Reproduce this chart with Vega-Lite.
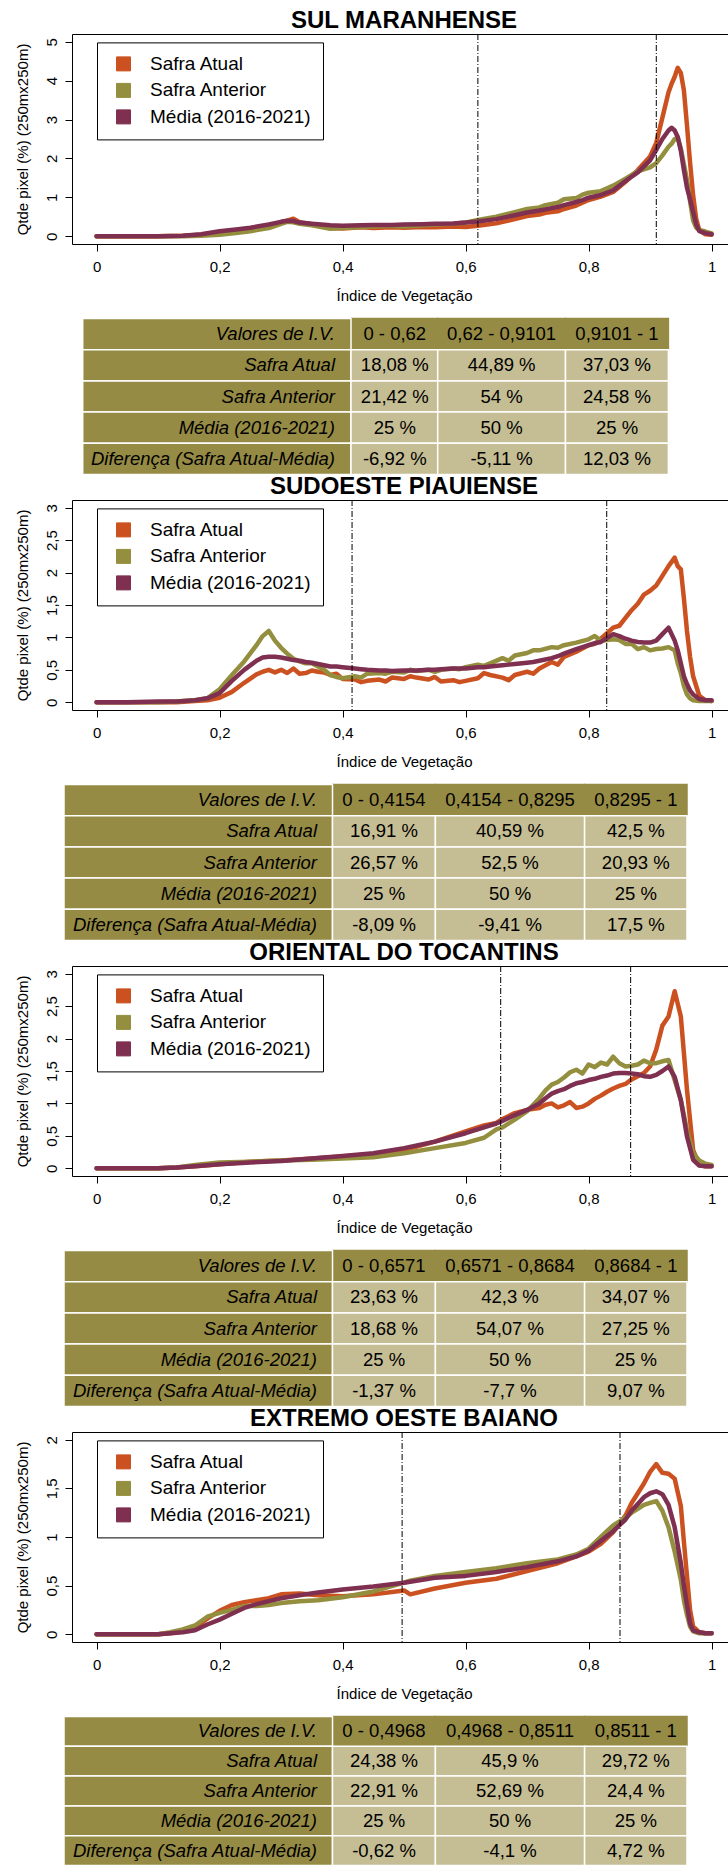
{
  "$schema": "https://vega.github.io/schema/vega-lite/v6.json",
  "padding": {"left": 14, "top": 8, "right": 0, "bottom": 0},
  "bounds": "flush",
  "spacing": 0,
  "resolve": {"scale": {"color": "independent"}, "legend": {"color": "independent"}},
  "config": {
    "font": "Liberation Sans",
    "view": {"stroke": null},
    "axis": {"grid": false, "domainColor": "black", "domainWidth": 1, "tickColor": "black", "tickWidth": 1, "labelColor": "black", "titleColor": "black", "labelFontSize": 15, "titleFontSize": 15, "titleFontWeight": "normal", "tickSize": 7, "labelFont": "Liberation Sans", "titleFont": "Liberation Sans"},
    "axisLeft": {"labelAngle": -90, "labelAlign": "center", "labelBaseline": "bottom", "labelPadding": 6, "titlePadding": 14},
    "axisBottom": {"labelPadding": 8, "titlePadding": 14, "titleX": 332},
    "title": {"fontSize": 24, "fontWeight": "bold", "color": "black", "offset": 1, "dx": 4, "font": "Liberation Sans"},
    "legend": {"symbolType": "square", "symbolSize": 196, "labelFontSize": 19, "labelFont": "Liberation Sans", "labelColor": "black", "labelOffset": 17, "padding": 12, "rowPadding": 6.5, "symbolOffset": 5, "strokeColor": "black", "fillColor": "white", "labelLimit": 300}
  },
  "datasets": {
    "l1": [{"x":0,"a":0,"b":0,"m":0},{"x":0.05,"a":0,"b":0,"m":0},{"x":0.1,"a":0,"b":0,"m":0},{"x":0.14,"a":0.01,"b":0,"m":0.01},{"x":0.17,"a":0.04,"b":0.01,"m":0.05},{"x":0.2,"a":0.1,"b":0.04,"m":0.13},{"x":0.23,"a":0.15,"b":0.09,"m":0.18},{"x":0.25,"a":0.19,"b":0.13,"m":0.22},{"x":0.28,"a":0.27,"b":0.21,"m":0.3},{"x":0.3,"a":0.36,"b":0.32,"m":0.37},{"x":0.31,"a":0.4,"b":0.37,"m":0.4},{"x":0.32,"a":0.45,"b":0.36,"m":0.39},{"x":0.33,"a":0.36,"b":0.32,"m":0.35},{"x":0.35,"a":0.31,"b":0.28,"m":0.32},{"x":0.38,"a":0.21,"b":0.19,"m":0.28},{"x":0.4,"a":0.2,"b":0.21,"m":0.27},{"x":0.43,"a":0.23,"b":0.24,"m":0.28},{"x":0.45,"a":0.21,"b":0.25,"m":0.29},{"x":0.48,"a":0.23,"b":0.27,"m":0.29},{"x":0.5,"a":0.22,"b":0.25,"m":0.3},{"x":0.53,"a":0.24,"b":0.28,"m":0.31},{"x":0.55,"a":0.23,"b":0.3,"m":0.32},{"x":0.58,"a":0.25,"b":0.32,"m":0.33},{"x":0.6,"a":0.24,"b":0.35,"m":0.35},{"x":0.62,"a":0.27,"b":0.42,"m":0.38},{"x":0.65,"a":0.33,"b":0.5,"m":0.44},{"x":0.68,"a":0.44,"b":0.62,"m":0.54},{"x":0.7,"a":0.52,"b":0.7,"m":0.61},{"x":0.72,"a":0.56,"b":0.74,"m":0.66},{"x":0.73,"a":0.6,"b":0.8,"m":0.69},{"x":0.75,"a":0.64,"b":0.86,"m":0.75},{"x":0.76,"a":0.7,"b":0.95,"m":0.8},{"x":0.78,"a":0.79,"b":0.98,"m":0.88},{"x":0.79,"a":0.86,"b":1.07,"m":0.93},{"x":0.8,"a":0.93,"b":1.12,"m":0.99},{"x":0.82,"a":1.02,"b":1.16,"m":1.06},{"x":0.84,"a":1.14,"b":1.3,"m":1.18},{"x":0.86,"a":1.4,"b":1.48,"m":1.42},{"x":0.88,"a":1.7,"b":1.67,"m":1.64},{"x":0.9,"a":2.05,"b":1.77,"m":1.95},{"x":0.91,"a":2.4,"b":1.88,"m":2.22},{"x":0.92,"a":3.05,"b":2.08,"m":2.5},{"x":0.93,"a":3.7,"b":2.3,"m":2.72},{"x":0.935,"a":3.92,"b":2.38,"m":2.79},{"x":0.94,"a":4.1,"b":2.5,"m":2.72},{"x":0.945,"a":4.33,"b":2.53,"m":2.55},{"x":0.95,"a":4.2,"b":2.25,"m":2.2},{"x":0.955,"a":3.75,"b":1.85,"m":1.7},{"x":0.96,"a":2.85,"b":1.45,"m":1.25},{"x":0.965,"a":1.9,"b":0.9,"m":0.95},{"x":0.97,"a":1.05,"b":0.4,"m":0.62},{"x":0.975,"a":0.45,"b":0.22,"m":0.3},{"x":0.98,"a":0.15,"b":0.16,"m":0.13},{"x":0.99,"a":0.05,"b":0.12,"m":0.08},{"x":1,"a":0.04,"b":0.07,"m":0.05}],
    "l2": [{"x":0,"a":0,"b":0,"m":0},{"x":0.05,"a":0,"b":0,"m":0},{"x":0.1,"a":0,"b":0,"m":0.01},{"x":0.13,"a":0,"b":0.01,"m":0.01},{"x":0.16,"a":0.02,"b":0.03,"m":0.03},{"x":0.18,"a":0.03,"b":0.06,"m":0.06},{"x":0.2,"a":0.07,"b":0.2,"m":0.14},{"x":0.22,"a":0.16,"b":0.42,"m":0.33},{"x":0.24,"a":0.3,"b":0.63,"m":0.5},{"x":0.26,"a":0.43,"b":0.88,"m":0.64},{"x":0.27,"a":0.47,"b":1.02,"m":0.69},{"x":0.28,"a":0.5,"b":1.1,"m":0.7},{"x":0.29,"a":0.46,"b":0.95,"m":0.7},{"x":0.3,"a":0.5,"b":0.84,"m":0.69},{"x":0.31,"a":0.45,"b":0.75,"m":0.67},{"x":0.32,"a":0.52,"b":0.67,"m":0.65},{"x":0.33,"a":0.44,"b":0.63,"m":0.64},{"x":0.34,"a":0.45,"b":0.6,"m":0.62},{"x":0.35,"a":0.49,"b":0.6,"m":0.61},{"x":0.36,"a":0.47,"b":0.55,"m":0.59},{"x":0.37,"a":0.46,"b":0.5,"m":0.57},{"x":0.38,"a":0.42,"b":0.42,"m":0.55},{"x":0.39,"a":0.44,"b":0.39,"m":0.55},{"x":0.4,"a":0.36,"b":0.37,"m":0.54},{"x":0.42,"a":0.35,"b":0.4,"m":0.52},{"x":0.43,"a":0.31,"b":0.38,"m":0.51},{"x":0.44,"a":0.33,"b":0.44,"m":0.5},{"x":0.46,"a":0.35,"b":0.45,"m":0.49},{"x":0.47,"a":0.32,"b":0.44,"m":0.49},{"x":0.48,"a":0.38,"b":0.47,"m":0.48},{"x":0.5,"a":0.36,"b":0.46,"m":0.49},{"x":0.51,"a":0.4,"b":0.5,"m":0.49},{"x":0.52,"a":0.38,"b":0.48,"m":0.49},{"x":0.54,"a":0.35,"b":0.5,"m":0.5},{"x":0.55,"a":0.39,"b":0.47,"m":0.5},{"x":0.56,"a":0.32,"b":0.5,"m":0.51},{"x":0.58,"a":0.34,"b":0.52,"m":0.52},{"x":0.59,"a":0.31,"b":0.51,"m":0.52},{"x":0.6,"a":0.33,"b":0.54,"m":0.52},{"x":0.62,"a":0.37,"b":0.58,"m":0.54},{"x":0.63,"a":0.45,"b":0.56,"m":0.54},{"x":0.64,"a":0.42,"b":0.6,"m":0.55},{"x":0.66,"a":0.38,"b":0.68,"m":0.57},{"x":0.67,"a":0.34,"b":0.64,"m":0.58},{"x":0.68,"a":0.42,"b":0.72,"m":0.59},{"x":0.7,"a":0.47,"b":0.76,"m":0.61},{"x":0.71,"a":0.44,"b":0.8,"m":0.62},{"x":0.72,"a":0.52,"b":0.8,"m":0.64},{"x":0.74,"a":0.62,"b":0.85,"m":0.68},{"x":0.75,"a":0.58,"b":0.84,"m":0.71},{"x":0.76,"a":0.7,"b":0.88,"m":0.75},{"x":0.78,"a":0.78,"b":0.92,"m":0.82},{"x":0.8,"a":0.88,"b":0.97,"m":0.88},{"x":0.81,"a":0.9,"b":1.02,"m":0.91},{"x":0.82,"a":0.98,"b":0.95,"m":0.93},{"x":0.84,"a":1.15,"b":0.97,"m":1.05},{"x":0.85,"a":1.18,"b":0.96,"m":1.02},{"x":0.86,"a":1.3,"b":0.9,"m":0.98},{"x":0.87,"a":1.42,"b":0.9,"m":0.95},{"x":0.88,"a":1.52,"b":0.82,"m":0.93},{"x":0.89,"a":1.66,"b":0.85,"m":0.92},{"x":0.9,"a":1.72,"b":0.8,"m":0.92},{"x":0.91,"a":1.8,"b":0.82,"m":0.95},{"x":0.92,"a":1.95,"b":0.83,"m":1.05},{"x":0.93,"a":2.1,"b":0.85,"m":1.15},{"x":0.94,"a":2.23,"b":0.8,"m":0.95},{"x":0.945,"a":2.1,"b":0.6,"m":0.8},{"x":0.95,"a":2.05,"b":0.45,"m":0.6},{"x":0.955,"a":1.6,"b":0.25,"m":0.4},{"x":0.96,"a":1.1,"b":0.12,"m":0.28},{"x":0.965,"a":0.7,"b":0.06,"m":0.18},{"x":0.97,"a":0.4,"b":0.03,"m":0.12},{"x":0.98,"a":0.1,"b":0.02,"m":0.05},{"x":0.99,"a":0.03,"b":0.02,"m":0.03},{"x":1,"a":0.02,"b":0.02,"m":0.03}],
    "l3": [{"x":0,"a":0,"b":0,"m":0},{"x":0.05,"a":0,"b":0,"m":0},{"x":0.1,"a":0,"b":0,"m":0},{"x":0.13,"a":0.01,"b":0.01,"m":0.01},{"x":0.16,"a":0.03,"b":0.05,"m":0.03},{"x":0.2,"a":0.06,"b":0.09,"m":0.06},{"x":0.25,"a":0.1,"b":0.1,"m":0.09},{"x":0.3,"a":0.12,"b":0.12,"m":0.11},{"x":0.35,"a":0.15,"b":0.13,"m":0.15},{"x":0.4,"a":0.18,"b":0.15,"m":0.19},{"x":0.45,"a":0.22,"b":0.17,"m":0.23},{"x":0.5,"a":0.28,"b":0.23,"m":0.31},{"x":0.55,"a":0.41,"b":0.31,"m":0.41},{"x":0.6,"a":0.57,"b":0.39,"m":0.54},{"x":0.63,"a":0.66,"b":0.47,"m":0.63},{"x":0.65,"a":0.7,"b":0.6,"m":0.69},{"x":0.66,"a":0.76,"b":0.63,"m":0.73},{"x":0.68,"a":0.85,"b":0.75,"m":0.82},{"x":0.7,"a":0.9,"b":0.88,"m":0.9},{"x":0.72,"a":0.93,"b":1.08,"m":1.0},{"x":0.73,"a":0.98,"b":1.2,"m":1.08},{"x":0.74,"a":1.0,"b":1.29,"m":1.15},{"x":0.75,"a":0.94,"b":1.33,"m":1.19},{"x":0.76,"a":0.97,"b":1.4,"m":1.22},{"x":0.77,"a":1.02,"b":1.48,"m":1.27},{"x":0.78,"a":0.93,"b":1.52,"m":1.31},{"x":0.79,"a":0.95,"b":1.46,"m":1.33},{"x":0.8,"a":1.0,"b":1.6,"m":1.36},{"x":0.81,"a":1.07,"b":1.56,"m":1.38},{"x":0.82,"a":1.12,"b":1.63,"m":1.41},{"x":0.83,"a":1.18,"b":1.6,"m":1.43},{"x":0.84,"a":1.23,"b":1.72,"m":1.46},{"x":0.85,"a":1.27,"b":1.62,"m":1.47},{"x":0.86,"a":1.3,"b":1.57,"m":1.47},{"x":0.87,"a":1.37,"b":1.58,"m":1.46},{"x":0.88,"a":1.42,"b":1.6,"m":1.45},{"x":0.89,"a":1.47,"b":1.66,"m":1.42},{"x":0.9,"a":1.57,"b":1.62,"m":1.41},{"x":0.91,"a":1.83,"b":1.62,"m":1.44},{"x":0.92,"a":2.2,"b":1.65,"m":1.5},{"x":0.93,"a":2.34,"b":1.67,"m":1.57},{"x":0.94,"a":2.73,"b":1.36,"m":1.41},{"x":0.95,"a":2.34,"b":1.05,"m":1.05},{"x":0.96,"a":1.21,"b":0.59,"m":0.49},{"x":0.97,"a":0.28,"b":0.23,"m":0.13},{"x":0.98,"a":0.05,"b":0.12,"m":0.04},{"x":0.99,"a":0.03,"b":0.07,"m":0.03},{"x":1,"a":0.03,"b":0.05,"m":0.03}],
    "l4": [{"x":0,"a":0,"b":0,"m":0},{"x":0.05,"a":0,"b":0,"m":0},{"x":0.1,"a":0,"b":0,"m":0},{"x":0.12,"a":0.01,"b":0.02,"m":0.01},{"x":0.14,"a":0.03,"b":0.05,"m":0.02},{"x":0.16,"a":0.07,"b":0.09,"m":0.04},{"x":0.18,"a":0.16,"b":0.18,"m":0.1},{"x":0.2,"a":0.24,"b":0.22,"m":0.15},{"x":0.22,"a":0.3,"b":0.25,"m":0.21},{"x":0.24,"a":0.33,"b":0.29,"m":0.27},{"x":0.26,"a":0.35,"b":0.29,"m":0.31},{"x":0.28,"a":0.37,"b":0.3,"m":0.34},{"x":0.3,"a":0.41,"b":0.32,"m":0.37},{"x":0.33,"a":0.42,"b":0.34,"m":0.4},{"x":0.36,"a":0.4,"b":0.35,"m":0.43},{"x":0.4,"a":0.39,"b":0.38,"m":0.46},{"x":0.45,"a":0.41,"b":0.44,"m":0.49},{"x":0.5,"a":0.45,"b":0.53,"m":0.53},{"x":0.51,"a":0.41,"b":0.55,"m":0.54},{"x":0.55,"a":0.47,"b":0.6,"m":0.58},{"x":0.6,"a":0.53,"b":0.64,"m":0.6},{"x":0.65,"a":0.57,"b":0.68,"m":0.64},{"x":0.7,"a":0.65,"b":0.73,"m":0.69},{"x":0.75,"a":0.73,"b":0.77,"m":0.75},{"x":0.78,"a":0.8,"b":0.82,"m":0.8},{"x":0.8,"a":0.85,"b":0.88,"m":0.86},{"x":0.82,"a":0.93,"b":1.0,"m":0.96},{"x":0.84,"a":1.05,"b":1.12,"m":1.06},{"x":0.86,"a":1.22,"b":1.2,"m":1.18},{"x":0.87,"a":1.35,"b":1.25,"m":1.27},{"x":0.88,"a":1.45,"b":1.29,"m":1.34},{"x":0.89,"a":1.55,"b":1.33,"m":1.41},{"x":0.9,"a":1.67,"b":1.35,"m":1.45},{"x":0.91,"a":1.75,"b":1.37,"m":1.47},{"x":0.92,"a":1.66,"b":1.27,"m":1.44},{"x":0.93,"a":1.65,"b":1.1,"m":1.33},{"x":0.94,"a":1.6,"b":0.85,"m":1.1},{"x":0.95,"a":1.32,"b":0.56,"m":0.73},{"x":0.955,"a":0.95,"b":0.35,"m":0.5},{"x":0.96,"a":0.6,"b":0.2,"m":0.3},{"x":0.965,"a":0.25,"b":0.08,"m":0.11},{"x":0.97,"a":0.08,"b":0.03,"m":0.04},{"x":0.98,"a":0.02,"b":0.01,"m":0.02},{"x":0.99,"a":0.01,"b":0.01,"m":0.01},{"x":1,"a":0.01,"b":0.01,"m":0.01}],
    "v1": [{"v":0.62},{"v":0.9101}],
    "v2": [{"v":0.4154},{"v":0.8295}],
    "v3": [{"v":0.6571},{"v":0.8684}],
    "v4": [{"v":0.4968},{"v":0.8511}],
    "t1": [{"r":"Valores de I.V.","c":1,"c2":2,"t":"0 - 0,62"},{"r":"Valores de I.V.","c":2,"c2":3,"t":"0,62 - 0,9101"},{"r":"Valores de I.V.","c":3,"c2":4,"t":"0,9101 - 1"},{"r":"Valores de I.V.","c":0,"c2":1,"t":"Valores de I.V."},{"r":"Safra Atual","c":0,"c2":1,"t":"Safra Atual"},{"r":"Safra Atual","c":1,"c2":2,"t":"18,08 %"},{"r":"Safra Atual","c":2,"c2":3,"t":"44,89 %"},{"r":"Safra Atual","c":3,"c2":4,"t":"37,03 %"},{"r":"Safra Anterior","c":0,"c2":1,"t":"Safra Anterior"},{"r":"Safra Anterior","c":1,"c2":2,"t":"21,42 %"},{"r":"Safra Anterior","c":2,"c2":3,"t":"54 %"},{"r":"Safra Anterior","c":3,"c2":4,"t":"24,58 %"},{"r":"Média (2016-2021)","c":0,"c2":1,"t":"Média (2016-2021)"},{"r":"Média (2016-2021)","c":1,"c2":2,"t":"25 %"},{"r":"Média (2016-2021)","c":2,"c2":3,"t":"50 %"},{"r":"Média (2016-2021)","c":3,"c2":4,"t":"25 %"},{"r":"Diferença (Safra Atual-Média)","c":0,"c2":1,"t":"Diferença (Safra Atual-Média)"},{"r":"Diferença (Safra Atual-Média)","c":1,"c2":2,"t":"-6,92 %"},{"r":"Diferença (Safra Atual-Média)","c":2,"c2":3,"t":"-5,11 %"},{"r":"Diferença (Safra Atual-Média)","c":3,"c2":4,"t":"12,03 %"}],
    "t2": [{"r":"Valores de I.V.","c":1,"c2":2,"t":"0 - 0,4154"},{"r":"Valores de I.V.","c":2,"c2":3,"t":"0,4154 - 0,8295"},{"r":"Valores de I.V.","c":3,"c2":4,"t":"0,8295 - 1"},{"r":"Valores de I.V.","c":0,"c2":1,"t":"Valores de I.V."},{"r":"Safra Atual","c":0,"c2":1,"t":"Safra Atual"},{"r":"Safra Atual","c":1,"c2":2,"t":"16,91 %"},{"r":"Safra Atual","c":2,"c2":3,"t":"40,59 %"},{"r":"Safra Atual","c":3,"c2":4,"t":"42,5 %"},{"r":"Safra Anterior","c":0,"c2":1,"t":"Safra Anterior"},{"r":"Safra Anterior","c":1,"c2":2,"t":"26,57 %"},{"r":"Safra Anterior","c":2,"c2":3,"t":"52,5 %"},{"r":"Safra Anterior","c":3,"c2":4,"t":"20,93 %"},{"r":"Média (2016-2021)","c":0,"c2":1,"t":"Média (2016-2021)"},{"r":"Média (2016-2021)","c":1,"c2":2,"t":"25 %"},{"r":"Média (2016-2021)","c":2,"c2":3,"t":"50 %"},{"r":"Média (2016-2021)","c":3,"c2":4,"t":"25 %"},{"r":"Diferença (Safra Atual-Média)","c":0,"c2":1,"t":"Diferença (Safra Atual-Média)"},{"r":"Diferença (Safra Atual-Média)","c":1,"c2":2,"t":"-8,09 %"},{"r":"Diferença (Safra Atual-Média)","c":2,"c2":3,"t":"-9,41 %"},{"r":"Diferença (Safra Atual-Média)","c":3,"c2":4,"t":"17,5 %"}],
    "t3": [{"r":"Valores de I.V.","c":1,"c2":2,"t":"0 - 0,6571"},{"r":"Valores de I.V.","c":2,"c2":3,"t":"0,6571 - 0,8684"},{"r":"Valores de I.V.","c":3,"c2":4,"t":"0,8684 - 1"},{"r":"Valores de I.V.","c":0,"c2":1,"t":"Valores de I.V."},{"r":"Safra Atual","c":0,"c2":1,"t":"Safra Atual"},{"r":"Safra Atual","c":1,"c2":2,"t":"23,63 %"},{"r":"Safra Atual","c":2,"c2":3,"t":"42,3 %"},{"r":"Safra Atual","c":3,"c2":4,"t":"34,07 %"},{"r":"Safra Anterior","c":0,"c2":1,"t":"Safra Anterior"},{"r":"Safra Anterior","c":1,"c2":2,"t":"18,68 %"},{"r":"Safra Anterior","c":2,"c2":3,"t":"54,07 %"},{"r":"Safra Anterior","c":3,"c2":4,"t":"27,25 %"},{"r":"Média (2016-2021)","c":0,"c2":1,"t":"Média (2016-2021)"},{"r":"Média (2016-2021)","c":1,"c2":2,"t":"25 %"},{"r":"Média (2016-2021)","c":2,"c2":3,"t":"50 %"},{"r":"Média (2016-2021)","c":3,"c2":4,"t":"25 %"},{"r":"Diferença (Safra Atual-Média)","c":0,"c2":1,"t":"Diferença (Safra Atual-Média)"},{"r":"Diferença (Safra Atual-Média)","c":1,"c2":2,"t":"-1,37 %"},{"r":"Diferença (Safra Atual-Média)","c":2,"c2":3,"t":"-7,7 %"},{"r":"Diferença (Safra Atual-Média)","c":3,"c2":4,"t":"9,07 %"}],
    "t4": [{"r":"Valores de I.V.","c":1,"c2":2,"t":"0 - 0,4968"},{"r":"Valores de I.V.","c":2,"c2":3,"t":"0,4968 - 0,8511"},{"r":"Valores de I.V.","c":3,"c2":4,"t":"0,8511 - 1"},{"r":"Valores de I.V.","c":0,"c2":1,"t":"Valores de I.V."},{"r":"Safra Atual","c":0,"c2":1,"t":"Safra Atual"},{"r":"Safra Atual","c":1,"c2":2,"t":"24,38 %"},{"r":"Safra Atual","c":2,"c2":3,"t":"45,9 %"},{"r":"Safra Atual","c":3,"c2":4,"t":"29,72 %"},{"r":"Safra Anterior","c":0,"c2":1,"t":"Safra Anterior"},{"r":"Safra Anterior","c":1,"c2":2,"t":"22,91 %"},{"r":"Safra Anterior","c":2,"c2":3,"t":"52,69 %"},{"r":"Safra Anterior","c":3,"c2":4,"t":"24,4 %"},{"r":"Média (2016-2021)","c":0,"c2":1,"t":"Média (2016-2021)"},{"r":"Média (2016-2021)","c":1,"c2":2,"t":"25 %"},{"r":"Média (2016-2021)","c":2,"c2":3,"t":"50 %"},{"r":"Média (2016-2021)","c":3,"c2":4,"t":"25 %"},{"r":"Diferença (Safra Atual-Média)","c":0,"c2":1,"t":"Diferença (Safra Atual-Média)"},{"r":"Diferença (Safra Atual-Média)","c":1,"c2":2,"t":"-0,62 %"},{"r":"Diferença (Safra Atual-Média)","c":2,"c2":3,"t":"-4,1 %"},{"r":"Diferença (Safra Atual-Média)","c":3,"c2":4,"t":"4,72 %"}]
  },
  "vconcat": [
    {
      "width": 656, "height": 210,
      "title": {"text": "SUL MARANHENSE"},
      "layer": [
        {"data": {"name": "l1"},
         "transform": [{"fold": ["a","b","m"], "as": ["serie","valor"]}],
         "mark": {"type": "line", "strokeWidth": 4.5, "strokeJoin": "round", "strokeCap": "round"},
         "encoding": {
           "x": {"field": "x", "type": "quantitative", "scale": {"domain": [-0.04, 1.0267], "nice": false, "zero": false}, "axis": {"orient": "bottom", "values": [0,0.2,0.4,0.6,0.8,1], "labelExpr": "replace(format(datum.value,'~g'),'.',',')", "title": "Índice de Vegetação"}},
           "y": {"field": "valor", "type": "quantitative", "scale": {"domain": [-0.2, 5.2], "nice": false, "zero": false}, "axis": {"values": [0,1,2,3,4,5], "labelExpr": "replace(format(datum.value,'~g'),'.',',')", "title": "Qtde pixel (%) (250mx250m)"}},
           "color": {"field": "serie", "type": "nominal", "scale": {"domain": ["a","b","m"], "range": ["#cb5220","#948f3e","#7f2f4f"]},
             "legend": {"title": null, "orient": "none", "legendX": 25, "legendY": 8.4, "labelExpr": "datum.label == 'a' ? 'Safra Atual' : datum.label == 'b' ? 'Safra Anterior' : 'Média (2016-2021)'",
               "encode": {"symbols": {"update": {"fill": {"signal": "datum.value == 'a' ? '#cb5220' : datum.value == 'b' ? '#948f3e' : '#7f2f4f'"}, "stroke": {"value": "#333333"}, "strokeWidth": {"value": 1}, "opacity": {"value": 1}}}}}}
         }},
        {"data": {"name": "v1"},
         "mark": {"type": "rule", "color": "black", "strokeWidth": 1, "strokeDash": [6,2,1,2]},
         "encoding": {"x": {"field": "v", "type": "quantitative", "scale": {"domain": [-0.04, 1.0267], "nice": false, "zero": false}, "axis": {"orient": "top", "labels": false, "ticks": false, "title": null, "domain": true}}}}
      ],
      "resolve": {"axis": {"x": "independent"}}
    },
    {
      "width": 600, "height": 255.5,
      "data": {"name": "t1"},
      "layer": [
        {"mark": {"type": "rect", "strokeWidth": 1.5},
         "encoding": {
           "x": {"field": "c", "type": "quantitative", "scale": {"domain": [0,1,2,3,4], "range": [10.7,279,365.7,493.5,596.4], "nice": false, "zero": false}, "axis": null},
           "x2": {"field": "c2"},
           "y": {"field": "r", "type": "nominal", "sort": null, "scale": {"domain": ["Valores de I.V.","Safra Atual","Safra Anterior","Média (2016-2021)","Diferença (Safra Atual-Média)"], "range": [74.5, 230.5], "paddingInner": 0, "paddingOuter": 0}, "axis": null},
           "fill": {"condition": {"test": "datum.c == 0 || datum.r == 'Valores de I.V.'", "value": "#968b44"}, "value": "#c5bd93"},
           "stroke": {"condition": {"test": "datum.c > 0 && datum.r == 'Valores de I.V.'", "value": "#968b44"}, "value": "white"}
         }},
        {"transform": [{"filter": "datum.c == 0"}],
         "mark": {"type": "text", "align": "right", "baseline": "middle", "fontStyle": "italic", "fontSize": 18.5, "color": "black"},
         "encoding": {
           "x": {"field": "c", "type": "quantitative", "scale": {"domain": [0,1,2,3], "range": [263,322.8,429.6,545], "nice": false, "zero": false}, "axis": null},
           "y": {"field": "r", "type": "nominal", "sort": null, "axis": null},
           "text": {"field": "t"}
         }},
        {"transform": [{"filter": "datum.c > 0"}],
         "mark": {"type": "text", "align": "center", "baseline": "middle", "fontSize": 18.5, "color": "black"},
         "encoding": {
           "x": {"field": "c", "type": "quantitative", "scale": {"domain": [0,1,2,3], "range": [263,322.8,429.6,545], "nice": false, "zero": false}, "axis": null},
           "y": {"field": "r", "type": "nominal", "sort": null, "axis": null},
           "text": {"field": "t"}
         }}
      ],
      "resolve": {"scale": {"x": "independent"}}
    },
    {
      "width": 656, "height": 210,
      "title": {"text": "SUDOESTE PIAUIENSE"},
      "layer": [
        {"data": {"name": "l2"},
         "transform": [{"fold": ["a","b","m"], "as": ["serie","valor"]}],
         "mark": {"type": "line", "strokeWidth": 4.5, "strokeJoin": "round", "strokeCap": "round"},
         "encoding": {
           "x": {"field": "x", "type": "quantitative", "scale": {"domain": [-0.04, 1.0267], "nice": false, "zero": false}, "axis": {"orient": "bottom", "values": [0,0.2,0.4,0.6,0.8,1], "labelExpr": "replace(format(datum.value,'~g'),'.',',')", "title": "Índice de Vegetação"}},
           "y": {"field": "valor", "type": "quantitative", "scale": {"domain": [-0.12, 3.12], "nice": false, "zero": false}, "axis": {"values": [0,0.5,1,1.5,2,2.5,3], "labelExpr": "replace(format(datum.value,'~g'),'.',',')", "title": "Qtde pixel (%) (250mx250m)"}},
           "color": {"field": "serie", "type": "nominal", "scale": {"domain": ["a","b","m"], "range": ["#cb5220","#948f3e","#7f2f4f"]},
             "legend": {"title": null, "orient": "none", "legendX": 25, "legendY": 8.4, "labelExpr": "datum.label == 'a' ? 'Safra Atual' : datum.label == 'b' ? 'Safra Anterior' : 'Média (2016-2021)'",
               "encode": {"symbols": {"update": {"fill": {"signal": "datum.value == 'a' ? '#cb5220' : datum.value == 'b' ? '#948f3e' : '#7f2f4f'"}, "stroke": {"value": "#333333"}, "strokeWidth": {"value": 1}, "opacity": {"value": 1}}}}}}
         }},
        {"data": {"name": "v2"},
         "mark": {"type": "rule", "color": "black", "strokeWidth": 1, "strokeDash": [6,2,1,2]},
         "encoding": {"x": {"field": "v", "type": "quantitative", "scale": {"domain": [-0.04, 1.0267], "nice": false, "zero": false}, "axis": {"orient": "top", "labels": false, "ticks": false, "title": null, "domain": true}}}}
      ],
      "resolve": {"axis": {"x": "independent"}}
    },
    {
      "width": 600, "height": 255.5,
      "data": {"name": "t2"},
      "layer": [
        {"mark": {"type": "rect", "strokeWidth": 1.5},
         "encoding": {
           "x": {"field": "c", "type": "quantitative", "scale": {"domain": [0,1,2,3,4], "range": [-8,260.5,363.4,512.6,615], "nice": false, "zero": false}, "axis": null},
           "x2": {"field": "c2"},
           "y": {"field": "r", "type": "nominal", "sort": null, "scale": {"domain": ["Valores de I.V.","Safra Atual","Safra Anterior","Média (2016-2021)","Diferença (Safra Atual-Média)"], "range": [74.5, 230.5], "paddingInner": 0, "paddingOuter": 0}, "axis": null},
           "fill": {"condition": {"test": "datum.c == 0 || datum.r == 'Valores de I.V.'", "value": "#968b44"}, "value": "#c5bd93"},
           "stroke": {"condition": {"test": "datum.c > 0 && datum.r == 'Valores de I.V.'", "value": "#968b44"}, "value": "white"}
         }},
        {"transform": [{"filter": "datum.c == 0"}],
         "mark": {"type": "text", "align": "right", "baseline": "middle", "fontStyle": "italic", "fontSize": 18.5, "color": "black"},
         "encoding": {
           "x": {"field": "c", "type": "quantitative", "scale": {"domain": [0,1,2,3], "range": [245,312,438,563.8], "nice": false, "zero": false}, "axis": null},
           "y": {"field": "r", "type": "nominal", "sort": null, "axis": null},
           "text": {"field": "t"}
         }},
        {"transform": [{"filter": "datum.c > 0"}],
         "mark": {"type": "text", "align": "center", "baseline": "middle", "fontSize": 18.5, "color": "black"},
         "encoding": {
           "x": {"field": "c", "type": "quantitative", "scale": {"domain": [0,1,2,3], "range": [245,312,438,563.8], "nice": false, "zero": false}, "axis": null},
           "y": {"field": "r", "type": "nominal", "sort": null, "axis": null},
           "text": {"field": "t"}
         }}
      ],
      "resolve": {"scale": {"x": "independent"}}
    },
    {
      "width": 656, "height": 210,
      "title": {"text": "ORIENTAL DO TOCANTINS"},
      "layer": [
        {"data": {"name": "l3"},
         "transform": [{"fold": ["a","b","m"], "as": ["serie","valor"]}],
         "mark": {"type": "line", "strokeWidth": 4.5, "strokeJoin": "round", "strokeCap": "round"},
         "encoding": {
           "x": {"field": "x", "type": "quantitative", "scale": {"domain": [-0.04, 1.0267], "nice": false, "zero": false}, "axis": {"orient": "bottom", "values": [0,0.2,0.4,0.6,0.8,1], "labelExpr": "replace(format(datum.value,'~g'),'.',',')", "title": "Índice de Vegetação"}},
           "y": {"field": "valor", "type": "quantitative", "scale": {"domain": [-0.12, 3.12], "nice": false, "zero": false}, "axis": {"values": [0,0.5,1,1.5,2,2.5,3], "labelExpr": "replace(format(datum.value,'~g'),'.',',')", "title": "Qtde pixel (%) (250mx250m)"}},
           "color": {"field": "serie", "type": "nominal", "scale": {"domain": ["a","b","m"], "range": ["#cb5220","#948f3e","#7f2f4f"]},
             "legend": {"title": null, "orient": "none", "legendX": 25, "legendY": 8.4, "labelExpr": "datum.label == 'a' ? 'Safra Atual' : datum.label == 'b' ? 'Safra Anterior' : 'Média (2016-2021)'",
               "encode": {"symbols": {"update": {"fill": {"signal": "datum.value == 'a' ? '#cb5220' : datum.value == 'b' ? '#948f3e' : '#7f2f4f'"}, "stroke": {"value": "#333333"}, "strokeWidth": {"value": 1}, "opacity": {"value": 1}}}}}}
         }},
        {"data": {"name": "v3"},
         "mark": {"type": "rule", "color": "black", "strokeWidth": 1, "strokeDash": [6,2,1,2]},
         "encoding": {"x": {"field": "v", "type": "quantitative", "scale": {"domain": [-0.04, 1.0267], "nice": false, "zero": false}, "axis": {"orient": "top", "labels": false, "ticks": false, "title": null, "domain": true}}}}
      ],
      "resolve": {"axis": {"x": "independent"}}
    },
    {
      "width": 600, "height": 255.5,
      "data": {"name": "t3"},
      "layer": [
        {"mark": {"type": "rect", "strokeWidth": 1.5},
         "encoding": {
           "x": {"field": "c", "type": "quantitative", "scale": {"domain": [0,1,2,3,4], "range": [-8,260.5,363.4,512.6,615], "nice": false, "zero": false}, "axis": null},
           "x2": {"field": "c2"},
           "y": {"field": "r", "type": "nominal", "sort": null, "scale": {"domain": ["Valores de I.V.","Safra Atual","Safra Anterior","Média (2016-2021)","Diferença (Safra Atual-Média)"], "range": [74.5, 230.5], "paddingInner": 0, "paddingOuter": 0}, "axis": null},
           "fill": {"condition": {"test": "datum.c == 0 || datum.r == 'Valores de I.V.'", "value": "#968b44"}, "value": "#c5bd93"},
           "stroke": {"condition": {"test": "datum.c > 0 && datum.r == 'Valores de I.V.'", "value": "#968b44"}, "value": "white"}
         }},
        {"transform": [{"filter": "datum.c == 0"}],
         "mark": {"type": "text", "align": "right", "baseline": "middle", "fontStyle": "italic", "fontSize": 18.5, "color": "black"},
         "encoding": {
           "x": {"field": "c", "type": "quantitative", "scale": {"domain": [0,1,2,3], "range": [245,312,438,563.8], "nice": false, "zero": false}, "axis": null},
           "y": {"field": "r", "type": "nominal", "sort": null, "axis": null},
           "text": {"field": "t"}
         }},
        {"transform": [{"filter": "datum.c > 0"}],
         "mark": {"type": "text", "align": "center", "baseline": "middle", "fontSize": 18.5, "color": "black"},
         "encoding": {
           "x": {"field": "c", "type": "quantitative", "scale": {"domain": [0,1,2,3], "range": [245,312,438,563.8], "nice": false, "zero": false}, "axis": null},
           "y": {"field": "r", "type": "nominal", "sort": null, "axis": null},
           "text": {"field": "t"}
         }}
      ],
      "resolve": {"scale": {"x": "independent"}}
    },
    {
      "width": 656, "height": 210,
      "title": {"text": "EXTREMO OESTE BAIANO"},
      "layer": [
        {"data": {"name": "l4"},
         "transform": [{"fold": ["a","b","m"], "as": ["serie","valor"]}],
         "mark": {"type": "line", "strokeWidth": 4.5, "strokeJoin": "round", "strokeCap": "round"},
         "encoding": {
           "x": {"field": "x", "type": "quantitative", "scale": {"domain": [-0.04, 1.0267], "nice": false, "zero": false}, "axis": {"orient": "bottom", "values": [0,0.2,0.4,0.6,0.8,1], "labelExpr": "replace(format(datum.value,'~g'),'.',',')", "title": "Índice de Vegetação"}},
           "y": {"field": "valor", "type": "quantitative", "scale": {"domain": [-0.08, 2.08], "nice": false, "zero": false}, "axis": {"values": [0,0.5,1,1.5,2], "labelExpr": "replace(format(datum.value,'~g'),'.',',')", "title": "Qtde pixel (%) (250mx250m)"}},
           "color": {"field": "serie", "type": "nominal", "scale": {"domain": ["a","b","m"], "range": ["#cb5220","#948f3e","#7f2f4f"]},
             "legend": {"title": null, "orient": "none", "legendX": 25, "legendY": 8.4, "labelExpr": "datum.label == 'a' ? 'Safra Atual' : datum.label == 'b' ? 'Safra Anterior' : 'Média (2016-2021)'",
               "encode": {"symbols": {"update": {"fill": {"signal": "datum.value == 'a' ? '#cb5220' : datum.value == 'b' ? '#948f3e' : '#7f2f4f'"}, "stroke": {"value": "#333333"}, "strokeWidth": {"value": 1}, "opacity": {"value": 1}}}}}}
         }},
        {"data": {"name": "v4"},
         "mark": {"type": "rule", "color": "black", "strokeWidth": 1, "strokeDash": [6,2,1,2]},
         "encoding": {"x": {"field": "v", "type": "quantitative", "scale": {"domain": [-0.04, 1.0267], "nice": false, "zero": false}, "axis": {"orient": "top", "labels": false, "ticks": false, "title": null, "domain": true}}}}
      ],
      "resolve": {"axis": {"x": "independent"}}
    },
    {
      "width": 600, "height": 224,
      "data": {"name": "t4"},
      "layer": [
        {"mark": {"type": "rect", "strokeWidth": 1.5},
         "encoding": {
           "x": {"field": "c", "type": "quantitative", "scale": {"domain": [0,1,2,3,4], "range": [-8,260.5,363.4,512.6,615], "nice": false, "zero": false}, "axis": null},
           "x2": {"field": "c2"},
           "y": {"field": "r", "type": "nominal", "sort": null, "scale": {"domain": ["Valores de I.V.","Safra Atual","Safra Anterior","Média (2016-2021)","Diferença (Safra Atual-Média)"], "range": [74.5, 223.5], "paddingInner": 0, "paddingOuter": 0}, "axis": null},
           "fill": {"condition": {"test": "datum.c == 0 || datum.r == 'Valores de I.V.'", "value": "#968b44"}, "value": "#c5bd93"},
           "stroke": {"condition": {"test": "datum.c > 0 && datum.r == 'Valores de I.V.'", "value": "#968b44"}, "value": "white"}
         }},
        {"transform": [{"filter": "datum.c == 0"}],
         "mark": {"type": "text", "align": "right", "baseline": "middle", "fontStyle": "italic", "fontSize": 18.5, "color": "black"},
         "encoding": {
           "x": {"field": "c", "type": "quantitative", "scale": {"domain": [0,1,2,3], "range": [245,312,438,563.8], "nice": false, "zero": false}, "axis": null},
           "y": {"field": "r", "type": "nominal", "sort": null, "axis": null},
           "text": {"field": "t"}
         }},
        {"transform": [{"filter": "datum.c > 0"}],
         "mark": {"type": "text", "align": "center", "baseline": "middle", "fontSize": 18.5, "color": "black"},
         "encoding": {
           "x": {"field": "c", "type": "quantitative", "scale": {"domain": [0,1,2,3], "range": [245,312,438,563.8], "nice": false, "zero": false}, "axis": null},
           "y": {"field": "r", "type": "nominal", "sort": null, "axis": null},
           "text": {"field": "t"}
         }}
      ],
      "resolve": {"scale": {"x": "independent"}}
    }
  ]
}
